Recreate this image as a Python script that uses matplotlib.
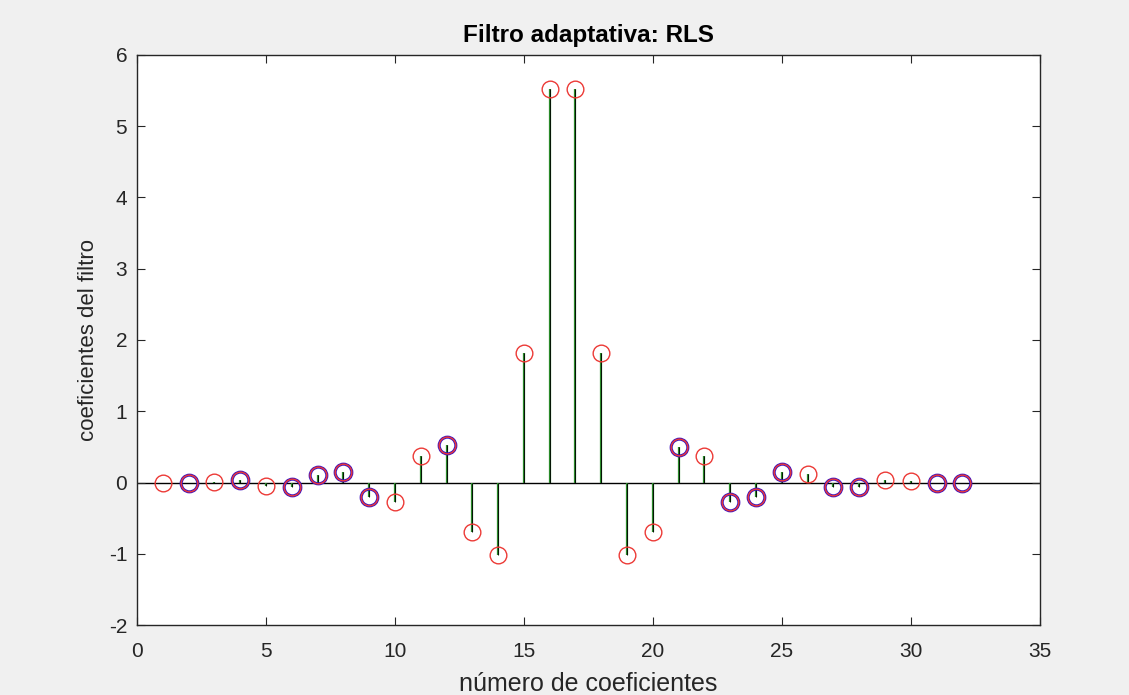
import numpy as np
import matplotlib
matplotlib.use("Agg")
import matplotlib.pyplot as plt

plt.rcParams['font.family'] = ['Liberation Sans', 'DejaVu Sans']
plt.rcParams['axes.unicode_minus'] = False

# coeficientes del filtro (indices 1..32)
n = list(range(1, 33))
coef = [0.00, -0.01, 0.01, 0.03, -0.05, -0.06, 0.11, 0.15, -0.20, -0.28,
        0.37, 0.52, -0.70, -1.02, 1.82, 5.52, 5.52, 1.82, -1.02, -0.70,
        0.50, 0.37, -0.27, -0.20, 0.15, 0.12, -0.06, -0.06, 0.04, 0.02,
        -0.01, -0.01]
# indices where the blue (RLS) markers show
blue_idx = [2, 4, 6, 7, 8, 9, 12, 21, 23, 24, 25, 27, 28, 31, 32]

txt = '#262626'

fig = plt.figure(figsize=(11.29, 6.95), dpi=100, facecolor='#f0f0f0')
ax = fig.add_axes([0.1213, 0.1007, 0.921 - 0.1213, 0.9209 - 0.1007])
ax.set_facecolor('white')

x = np.array(n)
y = np.array(coef)
bx = np.array(blue_idx)
by = y[bx - 1]

ax.axhline(0, color='black', lw=1.0, zorder=1)
ax.vlines(x, 0, y, color='#2a8a2a', lw=1.6, zorder=2)
ax.vlines(x, 0, y, color='black', lw=0.6, zorder=3)
ax.plot(bx, by, 'o', ms=12, mfc='none', mec='#3a10c0', mew=2.2, zorder=4)
ax.plot(x, y, 'o', ms=12, mfc='none', mec='#ec3a36', mew=1.0, zorder=5)

ax.set_xlim(0, 35)
ax.set_ylim(-2, 6)
ax.set_xticks(range(0, 36, 5))
ax.set_yticks(range(-2, 7))
ax.tick_params(direction='in', top=True, right=True, length=6, width=0.8,
               labelsize=15, labelcolor=txt, color=txt)
ax.tick_params(axis='x', pad=12)
ax.tick_params(axis='y', pad=7)
for s in ax.spines.values():
    s.set_color(txt)
    s.set_linewidth(1.0)

ax.set_title('Filtro adaptativa: RLS', fontsize=17.5, fontweight='bold', color='black', pad=9)
ax.set_xlabel('número de coeficientes', fontsize=18, color=txt, labelpad=8)
ax.set_ylabel('coeficientes del filtro', fontsize=16, color=txt, labelpad=7)

fig.savefig('out.png', dpi=100, facecolor=fig.get_facecolor())
